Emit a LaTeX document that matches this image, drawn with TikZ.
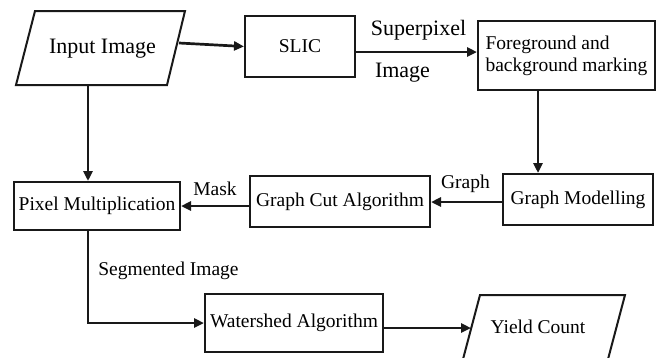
\documentclass[tikz,border=0pt]{standalone}
\usepackage{fontspec}
\setmainfont{Liberation Serif}
\usetikzlibrary{arrows.meta}
\definecolor{linec}{gray}{0.1}
\begin{document}
\begin{tikzpicture}[x=1pt,y=-1pt,
  box/.style={draw=linec, line width=2pt, inner sep=0pt, font=\fontsize{19.5}{22}\selectfont},
  txt/.style={inner sep=0pt, font=\fontsize{19.5}{22}\selectfont},
  bigtxt/.style={inner sep=0pt, font=\fontsize{22}{25}\selectfont},
  io/.style={draw=linec, line width=2pt, line join=miter},
  arr/.style={draw=linec, line width=2.7pt, -{Triangle[length=10pt,width=9pt]}}]
\clip (0,0) rectangle (665,357);
\useasboundingbox (0,0) rectangle (665,357);

% input / output parallelograms
\draw[io] (35,11) -- (185,11) -- (167,85) -- (16,85) -- cycle;
\node[bigtxt] (in) at (102.5,49) {Input Image};
\coordinate (in-e) at (179,43);
\coordinate (in-s) at (88,85);

\draw[io] (480,295) -- (625,295) -- (607,363) -- (462,363) -- cycle;
\node[txt] (yc) at (538,326.5) {Yield Count};
\coordinate (yc-w) at (471,328);

% process boxes
\node[box, minimum width=110, minimum height=61] (slic) at (300,46.5) {SLIC\hspace{10pt}};
\node[box, minimum width=177, minimum height=69, align=left]
  (fg) at (566.5,55.5) {Foreground and\\background marking};
\node[box, minimum width=150, minimum height=51] (gm) at (578,199.5) {Graph Modelling};
\node[box, minimum width=180, minimum height=51] (gc) at (340,201.5) {Graph Cut Algorithm};
\node[box, minimum width=166, minimum height=48] (pm) at (97,206) {Pixel Multiplication};
\node[box, minimum width=178, minimum height=58] (ws) at (294,323) {Watershed Algorithm};

% connector labels
\node[bigtxt] (lsup) at (418.5,30) {Superpixel};
\node[bigtxt] (limg) at (402.5,73) {Image};
\node[txt] (lgraph) at (465.5,183.5) {Graph};
\node[txt] (lmask) at (215,188.5) {Mask};
\node[txt] (lseg) at (168.5,270.5) {Segmented Image};

% connectors
\draw[arr] (in-e) -- (slic.west);
\draw[arr] ([yshift=-5.5pt]slic.east) -- ([yshift=3.5pt]fg.west);
\draw[arr] ([xshift=-28.5pt]fg.south) -- ([xshift=-40pt]gm.north);
\draw[arr] ([yshift=-2.5pt]gm.west) -- ([yshift=-2.5pt]gm.west -| gc.east);
\draw[arr] (gc.west |- pm.east) -- (pm.east);
\draw[arr] (in-s) -- (in-s |- pm.north);
\draw[arr] (pm.south -| in-s) -- (in-s |- ws.west) -- (ws.west);
\draw[arr] ([yshift=-5pt]ws.east) -- (yc-w);
\end{tikzpicture}
\end{document}
